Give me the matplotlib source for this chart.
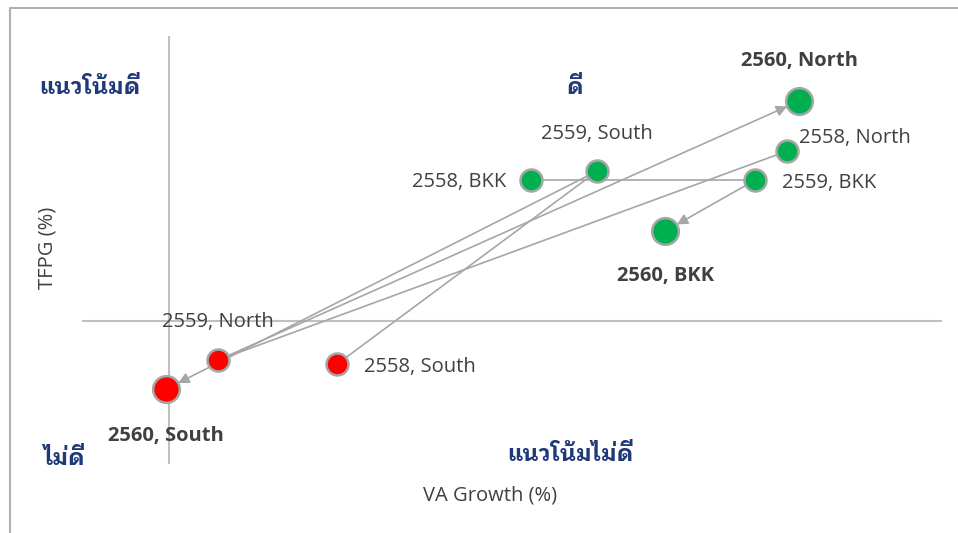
import matplotlib
matplotlib.use("Agg")
import matplotlib.pyplot as plt
from matplotlib import font_manager as fm
from matplotlib.ft2font import FT2Font
from matplotlib.lines import Line2D

# ---------------- data ----------------
regions = ["BKK", "North", "South"]
years = ["2558", "2559", "2560"]
va_growth_bkk = [3.62, 5.86, 4.96]
tfpg_bkk = [1.41, 1.41, 0.90]
va_growth_north = [6.18, 0.49, 6.30]
tfpg_north = [1.70, -0.39, 2.20]
va_growth_south = [1.68, 4.28, -0.03]
tfpg_south = [-0.43, 1.50, -0.68]
quadrant_labels = ["แนวโน้มดี", "ดี", "ไม่ดี", "แนวโน้มไม่ดี"]
x_title = "VA Growth (%)"
y_title = "TFPG (%)"

# ---------------- fonts ----------------
thai_fonts = []
for f in fm.fontManager.ttflist:
    if f.name in thai_fonts:
        continue
    try:
        cm = FT2Font(f.fname).get_charmap()
    except Exception:
        continue
    if 0x0E14 in cm and 0x0E41 in cm:
        thai_fonts.append(f.name)
preferred = ["IBM Plex Sans Thai Looped", "Noto Sans Thai Looped",
             "Noto Sans Thai", "Noto Sans Thai UI"]
thai_pick = [p for p in preferred if p in thai_fonts][:1] or thai_fonts[:1]
thai_family = thai_pick + ["DejaVu Sans"]
plt.rcParams["font.family"] = ["Open Sans"] + thai_family

# ---------------- figure ----------------
fig = plt.figure(figsize=(9.58, 5.33), dpi=100)
ax = fig.add_axes([0, 0, 1, 1])
ax.set_xlim(-1.693, 7.887)
ax.set_ylim(-2.12, 3.21)
ax.axis("off")

grey_line = "#A6A6A6"
axis_col = "#C0C0C0"
txt_col = "#404040"
navy = "#1F3A78"

# cross axes
ax.plot([0, 0], [-1.417, 2.843], color=axis_col, lw=1.5, zorder=1)
ax.plot([-0.86, 7.714], [0, 0], color=axis_col, lw=1.5, zorder=1)

series = {
    "BKK": (va_growth_bkk, tfpg_bkk),
    "North": (va_growth_north, tfpg_north),
    "South": (va_growth_south, tfpg_south),
}

for reg, (xs, ys) in series.items():
    # first transition: plain line
    ax.plot(xs[:2], ys[:2], color=grey_line, lw=1.2, zorder=2)
    # second transition: arrow
    ax.annotate("", xy=(xs[2], ys[2]), xytext=(xs[1], ys[1]),
                arrowprops=dict(arrowstyle="-|>", color=grey_line, lw=1.2,
                                shrinkA=0, shrinkB=9.5, mutation_scale=16),
                zorder=2)

def colour(y):
    return "#00B050" if y > 0 else "#FF0000"

for reg, (xs, ys) in series.items():
    for i in range(3):
        size = 370 if i == 2 else 250
        ax.scatter(xs[i], ys[i], s=size, color=colour(ys[i]),
                   edgecolor=grey_line, linewidth=1.8, zorder=4)

# label offsets (points) and alignment per (region, year index)
offsets = {
    ("BKK", 0): (-18, -1.5, "right"),
    ("BKK", 1): (19, -2, "left"),
    ("BKK", 2): (0, -32.5, "center"),
    ("North", 0): (8.5, 9, "left"),
    ("North", 1): (0, 27, "center"),
    ("North", 2): (0, 28.5, "center"),
    ("South", 0): (19, -2.2, "left"),
    ("South", 1): (0, 27, "center"),
    ("South", 2): (0, -33.5, "center"),
}
for reg, (xs, ys) in series.items():
    for i in range(3):
        dx, dy, ha = offsets[(reg, i)]
        bold = i == 2
        ax.annotate(f"{years[i]}, {reg}", xy=(xs[i], ys[i]),
                    xytext=(dx, dy), textcoords="offset points",
                    ha=ha, va="center", fontsize=14.5,
                    fontweight="bold" if bold else "normal",
                    color=txt_col, zorder=5)

# quadrant labels
qpos = [(90, 87), (575, 87), (64, 458), (570, 454)]
for lab, (px, py) in zip(quadrant_labels, qpos):
    fig.text(px / 958, 1 - py / 533, lab, ha="center", va="center",
             fontsize=16.3, fontweight="bold", color=navy, family=thai_family)

# axis titles
fig.text(490 / 958, 1 - 495 / 533, x_title, ha="center", va="center",
         fontsize=14.5, color=txt_col)
fig.text(47 / 958, 1 - 248 / 533, y_title, ha="center", va="center",
         fontsize=14.5, color=txt_col, rotation=90)

# frame border (top & left)
fig.add_artist(Line2D([9.5 / 958, 9.5 / 958, 1], [0, 1 - 7.7 / 533, 1 - 7.7 / 533],
                      transform=fig.transFigure, color="#B0B0B0", lw=1.5))

fig.savefig("out.png", dpi=100)
